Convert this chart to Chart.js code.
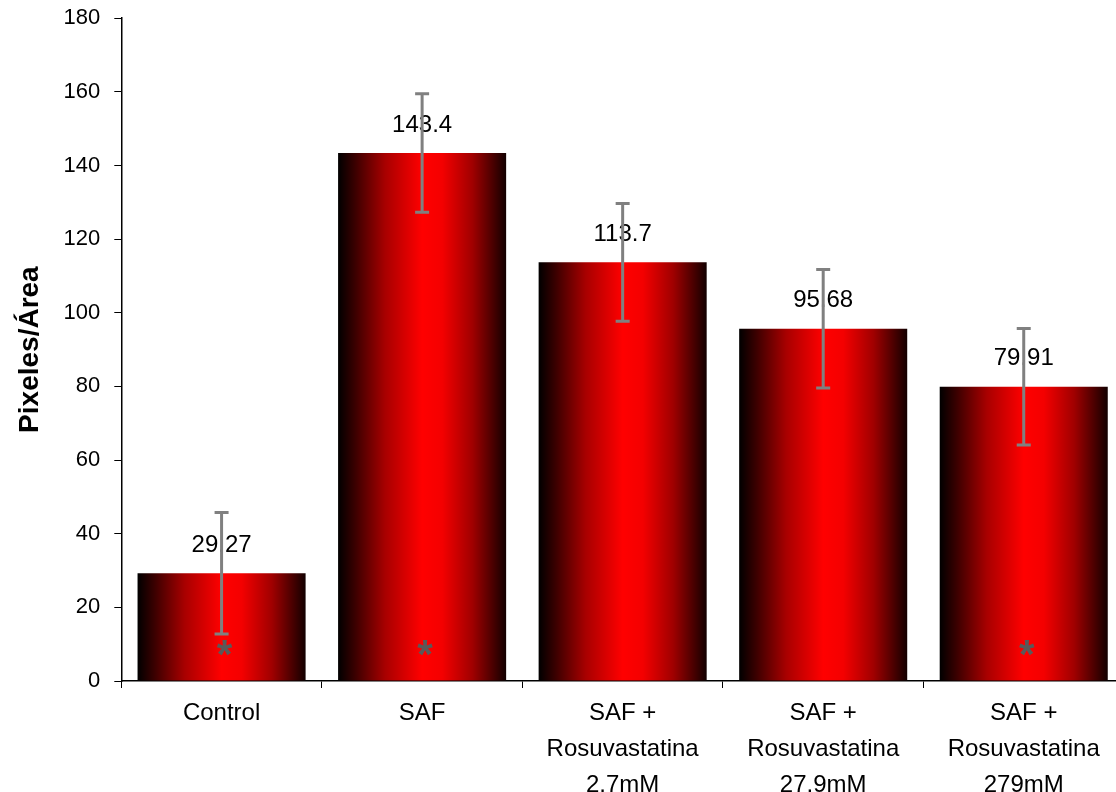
<!DOCTYPE html>
<html>
<head>
<meta charset="utf-8">
<script src="https://cdn.jsdelivr.net/npm/chart.js@4/dist/chart.umd.min.js"></script>
<style>
    html, body { margin: 0; padding: 0; background: #fff; overflow: hidden; }
    #wrap { width: 1116px; height: 792px; overflow: hidden; }
    #pixelChart { display: block; margin-top: -9px; }
</style>
</head>
<body>
<div id="wrap"><canvas id="pixelChart" width="1124" height="819"></canvas></div>
<script>
const groups = [
    ['Control'],
    ['SAF'],
    ['SAF +', 'Rosuvastatina', '2.7mM'],
    ['SAF +', 'Rosuvastatina', '27.9mM'],
    ['SAF +', 'Rosuvastatina', '279mM'],
];
const means = [29.27, 143.4, 113.7, 95.68, 79.91];
const meanLabels = ['29.27', '143.4', '113.7', '95.68', '79.91'];
const errors = [16.5, 16.1, 16.0, 16.1, 15.8];
const starred = [true, true, false, false, true];
const starLevel = 8;

const BAR_PCT = 0.838;
const FONT = '"Liberation Sans", Arial, sans-serif';

// horizontal dark -> red -> dark shading on each bar
function barGradient(context) {
    const chart = context.chart;
    const xScale = chart.scales.x;
    if (!chart.chartArea || !xScale || context.dataIndex === undefined) {
        return '#ff0000';
    }
    const cx = xScale.getPixelForValue(context.dataIndex);
    const half = (xScale.width / groups.length) * BAR_PCT / 2;
    const g = chart.ctx.createLinearGradient(cx - half, 0, cx + half, 0);
    g.addColorStop(0, '#000000');
    g.addColorStop(0.1, '#3a0000');
    g.addColorStop(0.28, '#a80000');
    g.addColorStop(0.5, '#ff0000');
    g.addColorStop(0.62, '#f40000');
    g.addColorStop(0.8, '#a00000');
    g.addColorStop(1, '#120000');
    return g;
}

const extrasPlugin = {
    id: 'extras',
    afterDatasetsDraw(chart) {
        const ctx = chart.ctx;
        const xScale = chart.scales.x;
        const yScale = chart.scales.y;
        ctx.save();

        // value labels
        ctx.font = '24px ' + FONT;
        ctx.fillStyle = '#000';
        ctx.textAlign = 'center';
        ctx.textBaseline = 'middle';
        means.forEach((v, i) => {
            const x = xScale.getPixelForValue(i);
            ctx.fillText(meanLabels[i], x, yScale.getPixelForValue(v) - 28);
        });

        // stars
        ctx.font = 'bold 40px ' + FONT;
        ctx.fillStyle = '#595959';
        ctx.textBaseline = 'alphabetic';
        starred.forEach((s, i) => {
            if (!s) return;
            const x = xScale.getPixelForValue(i);
            ctx.fillText('*', x + 3, yScale.getPixelForValue(starLevel) + 16);
        });

        // error bars
        ctx.strokeStyle = '#808080';
        ctx.lineWidth = 3;
        means.forEach((v, i) => {
            const x = xScale.getPixelForValue(i);
            const top = yScale.getPixelForValue(v + errors[i]);
            const bot = yScale.getPixelForValue(v - errors[i]);
            ctx.beginPath();
            ctx.moveTo(x, top);
            ctx.lineTo(x, bot);
            ctx.moveTo(x - 7, top);
            ctx.lineTo(x + 7, top);
            ctx.moveTo(x - 7, bot);
            ctx.lineTo(x + 7, bot);
            ctx.stroke();
        });
        ctx.restore();
    },
};

new Chart(document.getElementById('pixelChart'), {
    type: 'bar',
    data: {
        labels: groups,
        datasets: [
            {
                data: means,
                backgroundColor: barGradient,
                borderWidth: 0,
                barPercentage: BAR_PCT,
                categoryPercentage: 1,
            },
        ],
    },
    options: {
        responsive: false,
        animation: false,
        layout: {
            padding: { top: 4, right: 0, left: 5, bottom: 0 },
        },
        plugins: {
            legend: { display: false },
            tooltip: { enabled: false },
        },
        scales: {
            x: {
                grid: {
                    offset: true,
                    drawOnChartArea: false,
                    drawTicks: true,
                    tickLength: 7,
                    color: '#000',
                },
                border: { color: '#000', width: 1.5 },
                ticks: {
                    color: '#000',
                    maxRotation: 0,
                    autoSkip: false,
                    padding: 7,
                    font: { family: FONT, size: 24, lineHeight: 1.5 },
                },
            },
            y: {
                min: 0,
                max: 180,
                grid: {
                    drawOnChartArea: false,
                    drawTicks: true,
                    tickLength: 7,
                    color: '#000',
                },
                border: { color: '#000', width: 1.5 },
                ticks: {
                    stepSize: 20,
                    color: '#000',
                    padding: 14,
                    font: { family: FONT, size: 22 },
                },
                title: {
                    display: true,
                    text: 'Pixeles/Área',
                    color: '#000',
                    padding: { top: 8, bottom: 3 },
                    font: { family: FONT, size: 28, weight: 'bold' },
                },
            },
        },
    },
    plugins: [extrasPlugin],
});
</script>
</body>
</html>
